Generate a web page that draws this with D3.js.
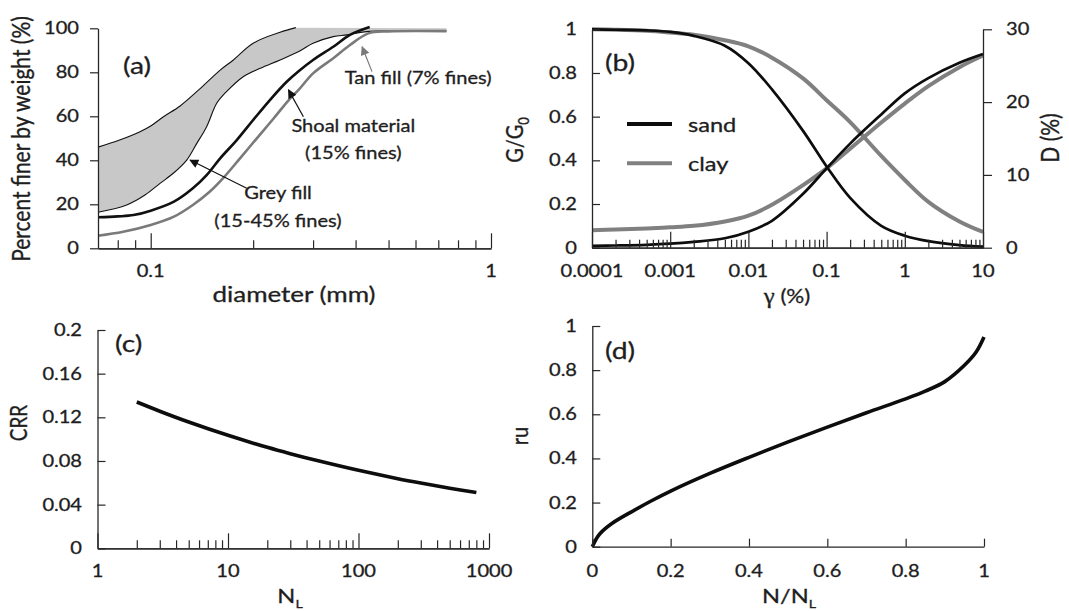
<!DOCTYPE html>
<html>
<head>
<meta charset="utf-8">
<script src="https://cdn.jsdelivr.net/npm/d3@7"></script>
<style>
  html, body { margin: 0; padding: 0; background: #fff; }
  svg { display: block; }
  text { font-family: Lato, "Open Sans", sans-serif; fill: #1e1e1e; stroke: #1e1e1e; stroke-width: 0.3px; }
</style>
</head>
<body>
<svg id="fig" width="1069" height="611"></svg>
<script>
// ---------- (a) grain size distribution ----------
const greyUpperD   = [0.07, 0.081, 0.093, 0.1, 0.109, 0.122, 0.14, 0.16, 0.175, 0.2, 0.24, 0.267];
const greyUpperPct = [46, 49.2, 53, 55.6, 59.8, 64.7, 72.7, 81, 85.6, 93.2, 98.2, 100.3];
const greyLowerD   = [0.07, 0.085, 0.0962, 0.1065, 0.1165, 0.1276, 0.1366, 0.146, 0.1563, 0.167, 0.187, 0.21, 0.24, 0.275, 0.30, 0.344, 0.377, 0.431, 0.74];
const greyLowerPct = [16.4, 19.7, 24.2, 29.5, 34.1, 40.1, 47.7, 55.3, 65.9, 71.2, 78, 81.8, 85.6, 89.8, 93.2, 96.2, 97, 98.5, 98.8];
const shoalD   = [0.07, 0.08, 0.089, 0.1, 0.117, 0.133, 0.146, 0.16, 0.179, 0.2, 0.224, 0.251, 0.272, 0.30, 0.344, 0.385, 0.44];
const shoalPct = [14.1, 14.5, 15.1, 17.1, 21.2, 27.3, 33.3, 40.9, 49.2, 58.3, 67.4, 75.7, 80.5, 85.6, 91.6, 97, 100.6];
const tanD   = [0.07, 0.083, 0.1, 0.117, 0.133, 0.149, 0.163, 0.183, 0.205, 0.23, 0.257, 0.272, 0.30, 0.344, 0.385, 0.436, 0.5, 0.74];
const tanPct = [5.7, 7.5, 10.6, 14.4, 19.7, 25.7, 31.8, 40.9, 50, 59.1, 68.2, 72, 79.5, 86.4, 92.4, 97.7, 98.6, 98.7];
const aYTicks = [0, 20, 40, 60, 80, 100];
const aXLabels = [0.1, 1];

// ---------- (b) modulus reduction and damping ----------
const strain   = [0.0001, 0.0002, 0.0005, 0.001, 0.002, 0.005, 0.01, 0.02, 0.05, 0.1, 0.2, 0.5, 1, 2, 5, 10];
const sandG    = [1.0, 0.998, 0.995, 0.988, 0.97, 0.925, 0.845, 0.725, 0.535, 0.372, 0.228, 0.10, 0.055, 0.03, 0.012, 0.005];
const clayG    = [1.0, 0.998, 0.993, 0.985, 0.975, 0.95, 0.922, 0.87, 0.775, 0.675, 0.575, 0.42, 0.31, 0.21, 0.12, 0.072];
const sandDamp = [0.25, 0.3, 0.4, 0.55, 0.8, 1.3, 2.2, 3.7, 7.4, 10.9, 14.3, 18.3, 21.2, 23.3, 25.4, 26.6];
const clayDamp = [2.4, 2.5, 2.65, 2.8, 3.0, 3.6, 4.4, 5.9, 8.6, 10.9, 13.6, 17.2, 19.8, 22.2, 24.8, 26.4];
const bYTicks = [0, 0.2, 0.4, 0.6, 0.8, 1];
const bY2Ticks = [0, 10, 20, 30];
const bXLabels = [0.0001, 0.001, 0.01, 0.1, 1, 10];
const bXText = ["0.0001", "0.001", "0.01", "0.1", "1", "10"];

// ---------- (c) cyclic resistance ratio ----------
const cycles = [2, 3, 5, 10, 20, 30, 50, 100, 200, 300, 500, 800];
const crr    = [0.134, 0.1256, 0.1157, 0.1035, 0.0925, 0.0867, 0.0799, 0.0714, 0.0638, 0.0598, 0.0551, 0.0511];
const cYTicks = [0, 0.04, 0.08, 0.12, 0.16, 0.2];
const cYText = ["0", "0.04", "0.08", "0.12", "0.16", "0.2"];
const cXLabels = [1, 10, 100, 1000];

// ---------- (d) pore pressure generation ----------
const cycleRatio = [0, 0.01, 0.02, 0.05, 0.1, 0.15, 0.2, 0.3, 0.4, 0.5, 0.6, 0.7, 0.8, 0.85, 0.9, 0.95, 0.98, 1.0];
const ru         = [0, 0.035, 0.06, 0.105, 0.158, 0.207, 0.252, 0.332, 0.405, 0.475, 0.542, 0.607, 0.67, 0.705, 0.748, 0.822, 0.882, 0.95];
const dTicks = [0, 0.2, 0.4, 0.6, 0.8, 1];
const dText = ["0", "0.2", "0.4", "0.6", "0.8", "1"];

const SX = 1.18;            // horizontal glyph stretch of the figure lettering
const AX = "#262626";
const GREY = "#808080";
const CURVE = d3.curveCatmullRom.alpha(0.5);
const svg = d3.select("#fig");

function txt(g, s, x, y, size, anchor = "middle", rotate = 0) {
  return g.append("text")
    .attr("transform", `translate(${x},${y}) scale(${SX},1)` + (rotate ? ` rotate(${rotate})` : ""))
    .attr("text-anchor", anchor)
    .style("font-size", size + "px")
    .text(s);
}
function styleAxis(g) {
  g.selectAll("path.domain").attr("stroke", AX).attr("stroke-width", 1.3);
  g.selectAll(".tick line").attr("stroke", AX).attr("stroke-width", 1.2);
  g.selectAll(".tick text").remove();
}
function logMinors(lo, hi) {
  const out = [];
  for (let p = lo; p < hi; p++) for (let k = 2; k <= 9; k++) out.push(k * Math.pow(10, p));
  return out;
}

// ================= panel (a) =================
const xA = d3.scaleLog().domain([0.07, 1]).range([98, 491]);
const yA = d3.scaleLinear().domain([0, 100]).range([248.3, 28.3]);
const gA = svg.append("g");

const upperPts = greyUpperD.map((d, i) => [d, greyUpperPct[i]]);
const lowerPts = greyLowerD.map((d, i) => [d, greyLowerPct[i]]);
const lineA = d3.line().x(p => xA(p[0])).y(p => yA(p[1])).curve(CURVE);
const ringPts = upperPts.concat([[greyLowerD[greyLowerD.length - 1], 100]], lowerPts.slice().reverse());
gA.append("path").attr("d", d3.line().x(p => xA(p[0])).y(p => yA(p[1]))(ringPts))
  .attr("fill", "#c8c8c8").attr("stroke", "none");
gA.append("path").attr("d", lineA(upperPts)).attr("fill", "none").attr("stroke", "#111").attr("stroke-width", 1.1);
gA.append("path").attr("d", lineA(lowerPts)).attr("fill", "none").attr("stroke", "#111").attr("stroke-width", 1.1);
gA.append("path").attr("d", lineA(tanD.map((d, i) => [d, tanPct[i]])))
  .attr("fill", "none").attr("stroke", "#7a7a7a").attr("stroke-width", 2.6);
gA.append("path").attr("d", lineA(shoalD.map((d, i) => [d, shoalPct[i]])))
  .attr("fill", "none").attr("stroke", "#111").attr("stroke-width", 2.6);

// axes (a)
gA.append("g").attr("transform", `translate(0,${yA(0)})`)
  .call(d3.axisBottom(xA).tickValues(logMinors(-2, 0).filter(v => v > 0.07 && v < 1)).tickSize(-8).tickSizeOuter(0).tickFormat(""))
  .call(styleAxis);
gA.append("g").attr("transform", `translate(0,${yA(0)})`)
  .call(d3.axisBottom(xA).tickValues(aXLabels).tickSize(-15).tickSizeOuter(0).tickFormat(""))
  .call(styleAxis);
gA.append("g").attr("transform", `translate(${xA(0.07)},0)`)
  .call(d3.axisLeft(yA).tickValues(aYTicks).tickSize(8).tickSizeOuter(0).tickFormat(""))
  .call(styleAxis);
aYTicks.forEach(v => txt(gA, String(v), 79, yA(v) + 6, 17, "end"));
aXLabels.forEach(v => txt(gA, String(v), xA(v), 277, 17));
txt(gA, "diameter (mm)", 294, 302, 22);
txt(gA, "Percent finer by weight (%)", 30, 139, 21, "middle", -90);
txt(gA, "(a)", 123, 74, 24, "start");

// annotations (a)
const defs = svg.append("defs");
[["headBlack", "#111"], ["headGrey", "#7a7a7a"]].forEach(([id, c]) => {
  defs.append("marker").attr("id", id).attr("viewBox", "0 0 10 10").attr("refX", 9).attr("refY", 5)
    .attr("markerWidth", 11).attr("markerHeight", 9).attr("markerUnits", "userSpaceOnUse").attr("orient", "auto")
    .append("path").attr("d", "M0,0 L10,5 L0,10 Z").attr("fill", c);
});
const arrows = [
  { from: [0.447, 80.3], to: [0.418, 91.6], color: "#7a7a7a", head: "headGrey" },
  { from: [0.281, 59.8], to: [0.254, 72.0], color: "#111", head: "headBlack" },
  { from: [0.1915, 27.3], to: [0.1305, 40.1], color: "#111", head: "headBlack" }
];
arrows.forEach(a => {
  gA.append("line").attr("x1", xA(a.from[0])).attr("y1", yA(a.from[1]))
    .attr("x2", xA(a.to[0])).attr("y2", yA(a.to[1]))
    .attr("stroke", a.color).attr("stroke-width", 1.2).attr("marker-end", `url(#${a.head})`);
});
txt(gA, "Tan fill (7% fines)", xA(0.611), yA(74.7), 17);
txt(gA, "Shoal material", xA(0.394), yA(52.9), 17);
txt(gA, "(15% fines)", xA(0.394), yA(40.6), 17);
txt(gA, "Grey fill", xA(0.2367), yA(22.4), 17);
txt(gA, "(15-45% fines)", xA(0.2367), yA(9.7), 17);

// ================= panel (b) =================
const xB = d3.scaleLog().domain([0.0001, 10]).range([592, 983]);
const yB = d3.scaleLinear().domain([0, 1]).range([247.7, 29.3]);
const yB2 = d3.scaleLinear().domain([0, 30]).range([247.7, 29.3]);
const gB = svg.append("g");
const lineG = d3.line().x((d, i) => xB(strain[i])).y(d => yB(d)).curve(CURVE);
const lineD = d3.line().x((d, i) => xB(strain[i])).y(d => yB2(d)).curve(CURVE);
gB.append("path").attr("d", lineD(clayDamp)).attr("fill", "none").attr("stroke", GREY).attr("stroke-width", 4);
gB.append("path").attr("d", lineG(clayG)).attr("fill", "none").attr("stroke", GREY).attr("stroke-width", 4);
gB.append("path").attr("d", lineD(sandDamp)).attr("fill", "none").attr("stroke", "#0d0d0d").attr("stroke-width", 2.7);
gB.append("path").attr("d", lineG(sandG)).attr("fill", "none").attr("stroke", "#0d0d0d").attr("stroke-width", 2.7);

gB.append("g").attr("transform", `translate(0,${yB(0)})`)
  .call(d3.axisBottom(xB).tickValues(logMinors(-4, 1)).tickSize(-8).tickSizeOuter(0).tickFormat(""))
  .call(styleAxis);
gB.append("g").attr("transform", `translate(0,${yB(0)})`)
  .call(d3.axisBottom(xB).tickValues(bXLabels).tickSize(-16).tickSizeOuter(0).tickFormat(""))
  .call(styleAxis);
gB.append("g").attr("transform", `translate(${xB(0.0001)},0)`)
  .call(d3.axisLeft(yB).tickValues(bYTicks).tickSize(-8).tickSizeOuter(0).tickFormat(""))
  .call(styleAxis);
gB.append("g").attr("transform", `translate(${xB(10)},0)`)
  .call(d3.axisRight(yB2).tickValues(bY2Ticks).tickSize(9).tickSizeOuter(0).tickFormat(""))
  .call(styleAxis);
bYTicks.forEach(v => txt(gB, String(v), 577, yB(v) + 6, 17, "end"));
bY2Ticks.forEach(v => txt(gB, String(v), 1006, yB2(v) + 6, 17, "start"));
bXLabels.forEach((v, i) => txt(gB, bXText[i], xB(v), 277, 17));
const gamma = txt(gB, "", 787, 303, 19);
gamma.append("tspan").style("font-family", "'Liberation Serif', 'DejaVu Serif', serif").style("font-size", "21px").text("γ");
gamma.append("tspan").text(" (%)");
const gg = txt(gB, "G/G", 523, 140, 20, "middle", -90);
gg.append("tspan").attr("dy", 5).style("font-size", "13px").text("0");
txt(gB, "D (%)", 1059, 138, 21, "middle", -90);
txt(gB, "(b)", 605, 71, 24, "start");

// legend (b)
const legend = [["sand", "#0d0d0d"], ["clay", GREY]];
legend.forEach(([name, c], i) => {
  const ly = 124 + i * 39.3;
  gB.append("line").attr("x1", 627).attr("x2", 672).attr("y1", ly).attr("y2", ly)
    .attr("stroke", c).attr("stroke-width", 4);
  txt(gB, name, 688, ly + 8, 20, "start");
});

// ================= panel (c) =================
const xC = d3.scaleLog().domain([1, 1000]).range([97.5, 489]);
const yC = d3.scaleLinear().domain([0, 0.2]).range([548.3, 330]);
const gC = svg.append("g");
gC.append("path")
  .attr("d", d3.line().x((d, i) => xC(cycles[i])).y(d => yC(d)).curve(CURVE)(crr))
  .attr("fill", "none").attr("stroke", "#0d0d0d").attr("stroke-width", 3.6);
gC.append("g").attr("transform", `translate(0,${yC(0)})`)
  .call(d3.axisBottom(xC).tickValues(logMinors(0, 3)).tickSize(-8).tickSizeOuter(0).tickFormat(""))
  .call(styleAxis);
gC.append("g").attr("transform", `translate(0,${yC(0)})`)
  .call(d3.axisBottom(xC).tickValues(cXLabels).tickSize(-15).tickSizeOuter(0).tickFormat(""))
  .call(styleAxis);
gC.append("g").attr("transform", `translate(${xC(1)},0)`)
  .call(d3.axisLeft(yC).tickValues(cYTicks).tickSize(-8).tickSizeOuter(0).tickFormat(""))
  .call(styleAxis);
cYTicks.forEach((v, i) => txt(gC, cYText[i], 82, yC(v) + 6, 17, "end"));
cXLabels.forEach(v => txt(gC, String(v), xC(v), 577, 17));
const nl = txt(gC, "N", 290, 603, 20);
nl.append("tspan").attr("dy", 5).style("font-size", "12px").text("L");
txt(gC, "CRR", 27, 423, 19, "middle", -90);
txt(gC, "(c)", 115, 352, 24, "start");

// ================= panel (d) =================
const xD = d3.scaleLinear().domain([0, 1]).range([592.3, 984]);
const yD = d3.scaleLinear().domain([0, 1]).range([546.7, 326]);
const gD = svg.append("g");
gD.append("path")
  .attr("d", d3.line().x((d, i) => xD(cycleRatio[i])).y(d => yD(d)).curve(CURVE)(ru))
  .attr("fill", "none").attr("stroke", "#0d0d0d").attr("stroke-width", 3.6);
gD.append("g").attr("transform", `translate(0,${yD(0)})`)
  .call(d3.axisBottom(xD).tickValues(dTicks).tickSize(-8).tickSizeOuter(0).tickFormat(""))
  .call(styleAxis);
gD.append("g").attr("transform", `translate(${xD(0)},0)`)
  .call(d3.axisLeft(yD).tickValues(dTicks).tickSize(-8).tickSizeOuter(0).tickFormat(""))
  .call(styleAxis);
dTicks.forEach((v, i) => txt(gD, dText[i], 577, yD(v) + 6, 17, "end"));
dTicks.forEach((v, i) => txt(gD, dText[i], xD(v), 577, 17));
const nn = txt(gD, "N/N", 789, 603, 20);
nn.append("tspan").attr("dy", 5).style("font-size", "12px").text("L");
txt(gD, "ru", 528, 436, 20, "middle", -90);
txt(gD, "(d)", 605, 359, 24, "start");
</script>
</body>
</html>
